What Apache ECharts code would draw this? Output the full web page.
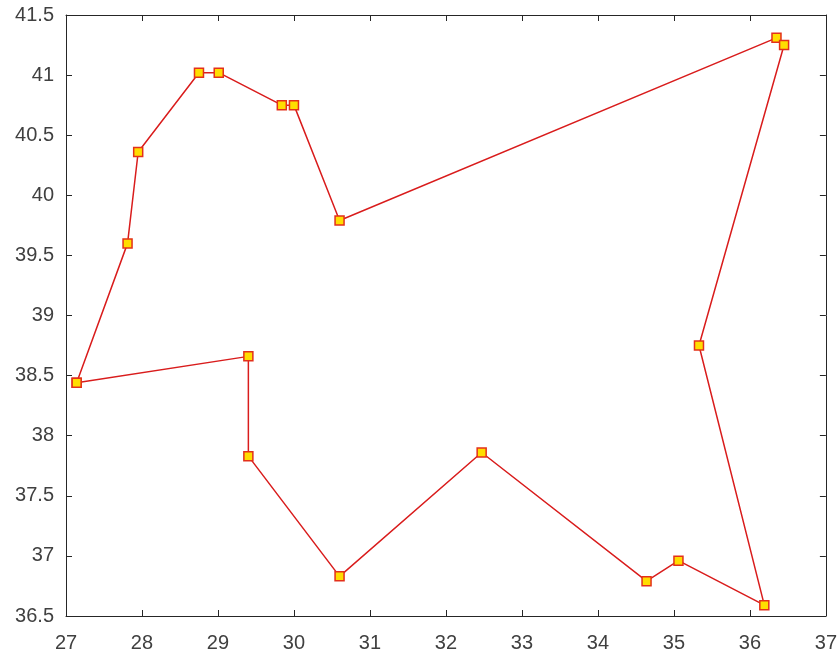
<!DOCTYPE html>
<html>
<head>
<meta charset="utf-8">
<title>Route</title>
<script src="https://cdn.jsdelivr.net/npm/echarts@6/dist/echarts.min.js"></script>
<style>
  html, body { margin: 0; padding: 0; background: #ffffff; }
  #chart { width: 840px; height: 659px; }
</style>
</head>
<body>
<div id="chart"></div>
<script>
// Tour through the stops, closed back on its starting point
const lon = [27.14, 27.81, 27.95, 28.75, 29.01, 29.84, 30.00, 30.60, 36.35, 36.45,
             35.33, 36.19, 35.06, 34.64, 32.47, 30.60, 29.40, 29.40, 27.14];
const lat = [38.44, 39.60, 40.36, 41.02, 41.02, 40.75, 40.75, 39.79, 41.31, 41.25,
             38.75, 36.59, 36.96, 36.79, 37.86, 36.83, 37.83, 38.66, 38.44];

const xTicks = [27, 28, 29, 30, 31, 32, 33, 34, 35, 36, 37];
const yTicks = [36.5, 37, 37.5, 38, 38.5, 39, 39.5, 40, 40.5, 41, 41.5];

const points = lon.map((x, i) => [x, lat[i]]);

const axisColor = '#262626';
const labelFont = { color: '#404040', fontSize: 20, fontFamily: 'Liberation Sans, Arial, sans-serif' };

function xAxisDef(pos, showLabel) {
  return {
    type: 'value', position: pos,
    min: xTicks[0], max: xTicks[xTicks.length - 1], interval: 1,
    axisLine: { show: true, onZero: false, lineStyle: { color: axisColor, width: 1 } },
    axisTick: { show: true, inside: true, length: 6, lineStyle: { color: axisColor } },
    axisLabel: Object.assign({ show: showLabel, margin: 17 }, labelFont),
    splitLine: { show: false }
  };
}
function yAxisDef(pos, showLabel) {
  return {
    type: 'value', position: pos,
    min: yTicks[0], max: yTicks[yTicks.length - 1], interval: 0.5,
    axisLine: { show: true, onZero: false, lineStyle: { color: axisColor, width: 1 } },
    axisTick: { show: true, inside: true, length: 6, lineStyle: { color: axisColor } },
    axisLabel: Object.assign({ show: showLabel, margin: 12 }, labelFont),
    splitLine: { show: false }
  };
}

const chart = echarts.init(document.getElementById('chart'), null, { renderer: 'canvas' });
chart.setOption({
  animation: false,
  backgroundColor: '#ffffff',
  grid: { left: 66, right: 13, top: 15, bottom: 43, containLabel: false },
  xAxis: [xAxisDef('bottom', true), xAxisDef('top', false)],
  yAxis: [yAxisDef('left', true), yAxisDef('right', false)],
  series: [{
    type: 'line',
    xAxisIndex: 0, yAxisIndex: 0,
    data: points,
    lineStyle: { color: '#d91c1c', width: 1.5 },
    symbol: 'rect',
    symbolSize: 9,
    itemStyle: { color: '#ffdd00', borderColor: '#e3301a', borderWidth: 1.5 },
    z: 3
  }]
});
</script>
</body>
</html>
